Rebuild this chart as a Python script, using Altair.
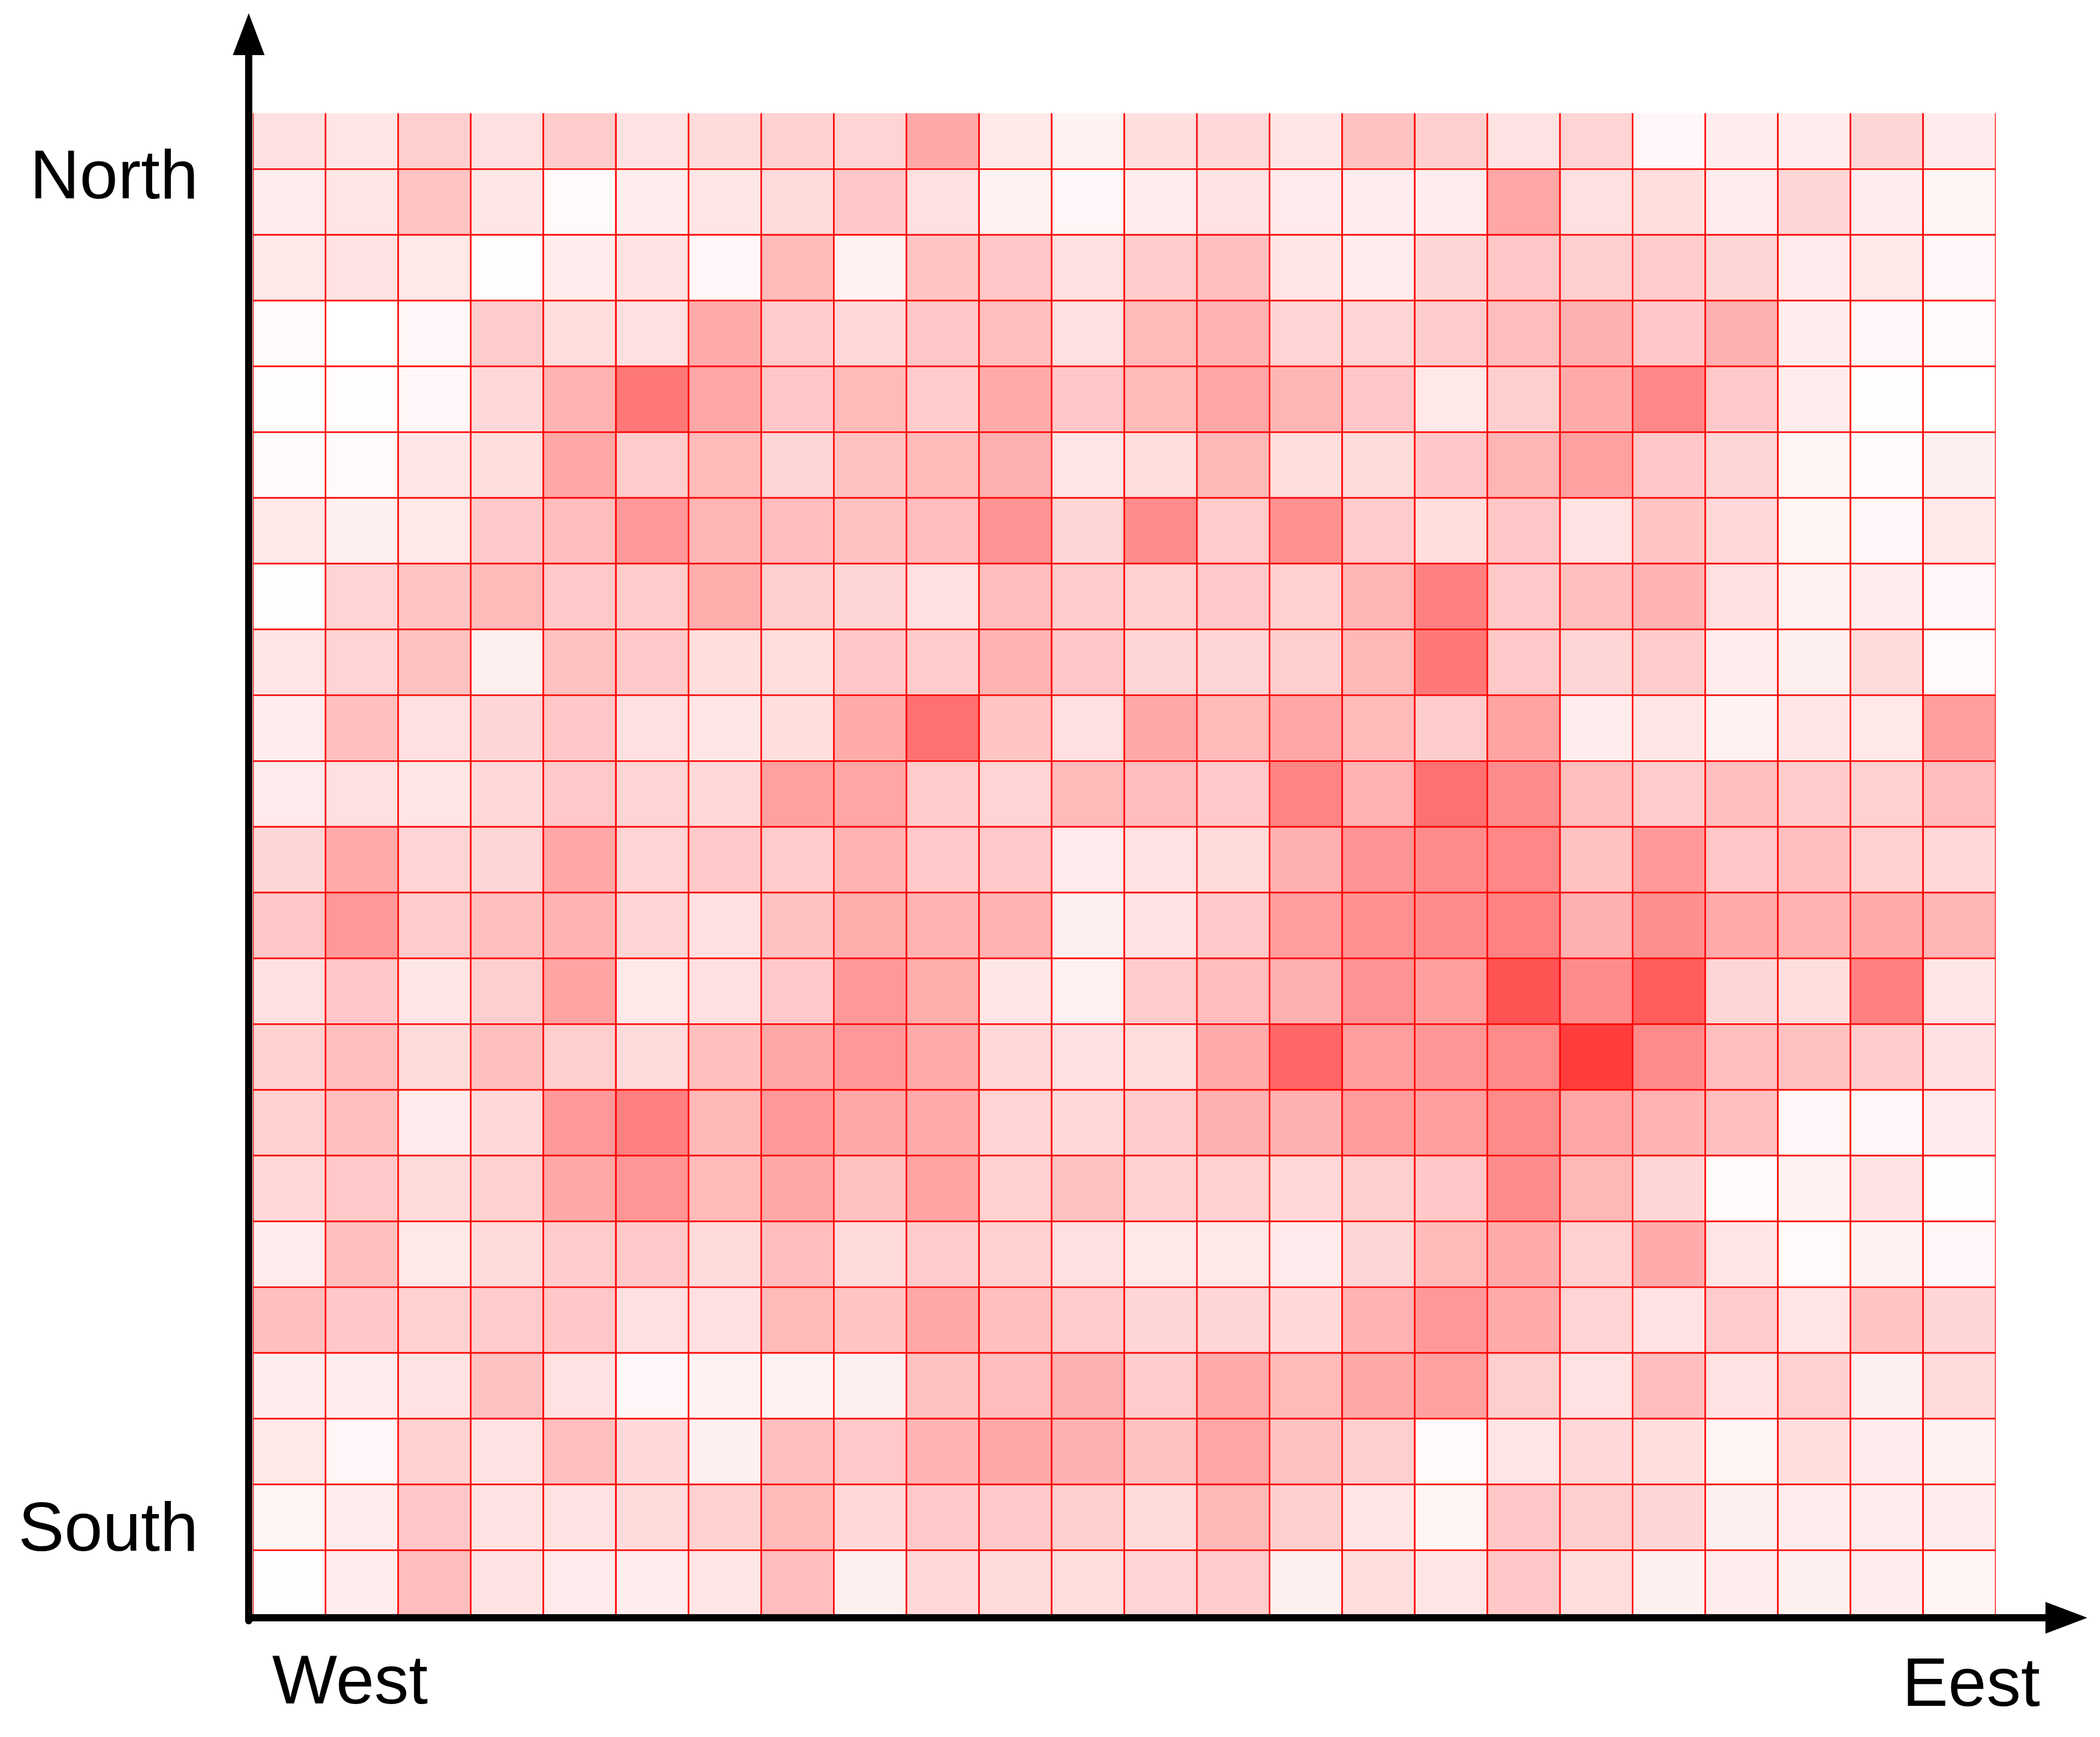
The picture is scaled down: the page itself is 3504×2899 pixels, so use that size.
import altair as alt
import pandas as pd

# intensity of red (0 = white, 100 = pure red), rows listed from North (top) to South (bottom),
# columns from West (left) to East (right)
row_values = [
    [12, 10, 19, 12, 20, 11, 14, 18, 17, 34, 9, 5, 13, 15, 10, 24, 19, 11, 17, 3, 7, 7, 16, 8],
    [7, 10, 23, 10, 2, 7, 10, 14, 22, 12, 5, 3, 7, 11, 8, 7, 7, 35, 12, 13, 7, 16, 7, 4],
    [9, 11, 9, 1, 7, 11, 3, 27, 5, 23, 22, 12, 20, 25, 10, 7, 16, 22, 19, 20, 16, 8, 9, 3],
    [2, 0, 3, 20, 13, 12, 33, 20, 15, 22, 25, 12, 27, 30, 17, 17, 20, 26, 31, 22, 31, 7, 3, 2],
    [1, 1, 3, 15, 30, 53, 35, 22, 27, 20, 33, 22, 27, 35, 29, 22, 9, 19, 33, 47, 21, 7, 1, 0],
    [2, 2, 10, 13, 35, 20, 27, 16, 24, 27, 31, 10, 13, 28, 13, 14, 22, 29, 37, 22, 16, 4, 2, 6],
    [9, 6, 9, 21, 26, 40, 29, 26, 24, 26, 42, 16, 45, 20, 43, 20, 13, 22, 11, 23, 15, 4, 3, 9],
    [1, 17, 23, 27, 21, 20, 32, 19, 16, 12, 26, 20, 18, 21, 18, 29, 50, 21, 25, 30, 12, 5, 7, 3],
    [10, 17, 24, 6, 24, 21, 13, 13, 22, 20, 30, 22, 16, 16, 19, 28, 53, 21, 16, 20, 7, 6, 14, 2],
    [7, 25, 12, 16, 22, 12, 10, 13, 33, 56, 23, 12, 34, 27, 35, 27, 20, 36, 7, 10, 5, 10, 9, 38],
    [8, 12, 10, 15, 21, 17, 15, 37, 35, 20, 17, 27, 26, 21, 48, 30, 56, 45, 25, 20, 25, 20, 18, 26],
    [16, 33, 17, 16, 35, 17, 21, 20, 30, 21, 21, 8, 11, 14, 31, 42, 46, 47, 24, 40, 22, 25, 18, 15],
    [22, 40, 20, 25, 30, 17, 12, 24, 32, 30, 30, 6, 11, 21, 38, 43, 45, 49, 31, 44, 33, 30, 33, 29],
    [12, 22, 10, 19, 36, 9, 12, 21, 40, 32, 10, 5, 20, 26, 31, 42, 38, 68, 45, 64, 16, 13, 50, 10],
    [18, 25, 14, 25, 19, 14, 25, 34, 40, 33, 15, 12, 13, 33, 60, 38, 41, 46, 76, 46, 25, 24, 20, 12],
    [18, 25, 8, 15, 40, 50, 28, 40, 34, 33, 17, 15, 20, 31, 31, 39, 38, 46, 35, 30, 25, 3, 3, 8],
    [15, 21, 14, 18, 34, 41, 27, 34, 24, 36, 18, 24, 18, 18, 15, 19, 22, 45, 28, 16, 2, 5, 11, 1],
    [7, 25, 9, 14, 20, 21, 14, 26, 14, 20, 18, 12, 9, 9, 8, 16, 27, 33, 18, 33, 10, 2, 5, 3],
    [25, 22, 18, 20, 22, 12, 12, 27, 23, 34, 25, 20, 16, 16, 15, 30, 40, 33, 17, 11, 20, 10, 23, 16],
    [7, 7, 11, 24, 11, 3, 5, 5, 6, 24, 26, 31, 20, 33, 27, 34, 37, 19, 11, 26, 11, 18, 6, 14],
    [9, 3, 18, 11, 25, 15, 6, 25, 21, 30, 34, 31, 24, 35, 24, 19, 2, 10, 15, 13, 4, 13, 8, 5],
    [4, 7, 22, 11, 11, 14, 18, 27, 15, 21, 21, 19, 14, 28, 19, 10, 4, 22, 19, 16, 6, 7, 7, 7],
    [1, 7, 26, 11, 8, 7, 10, 26, 6, 15, 14, 13, 17, 20, 6, 13, 10, 22, 13, 6, 7, 6, 7, 4],
]
n_rows = len(row_values)
n_cols = len(row_values[0])
visible_rows = 22.85  # the top row is partly cut off

labels_y = ["North", "South"]
labels_x = ["West", "Eest"]

records = []
for i, row in enumerate(row_values):
    for j, v in enumerate(row):
        records.append({"x0": j, "x1": j + 1, "y0": n_rows - 1 - i, "y1": n_rows - i, "v": v})
df = pd.DataFrame(records)

W, H = 2908, 2508
xs = alt.Scale(domain=[0, n_cols], nice=False, zero=False)
ys = alt.Scale(domain=[0, visible_rows], nice=False, zero=False)

cells = alt.Chart(df).mark_rect(stroke="#ff0000", strokeWidth=2.5, clip=True).encode(
    x=alt.X("x0:Q", scale=xs, axis=None),
    x2="x1:Q",
    y=alt.Y("y0:Q", scale=ys, axis=None),
    y2="y1:Q",
    color=alt.Color("v:Q", scale=alt.Scale(domain=[0, 100], range=["#ffffff", "#ff0000"], interpolate="rgb"), legend=None),
)

one = pd.DataFrame({"a": [0]})

y_axis = alt.Chart(one).mark_rule(color="black", strokeWidth=12, strokeCap="round").encode(
    x=alt.value(-7), y=alt.value(-100), y2=alt.value(2516)
)
x_axis = alt.Chart(one).mark_rule(color="black", strokeWidth=12, strokeCap="butt").encode(
    x=alt.value(-12), x2=alt.value(2998), y=alt.value(2511)
)
y_head = alt.Chart(one).mark_point(
    shape="M0,-1L0.757,1L-0.757,1Z", size=4900, filled=True, color="black", opacity=1, strokeWidth=0
).encode(x=alt.value(-7), y=alt.value(-132))
x_head = alt.Chart(one).mark_point(
    shape="M1,0L-1,-0.757L-1,0.757Z", size=4900, filled=True, color="black", opacity=1, strokeWidth=0
).encode(x=alt.value(3026), y=alt.value(2511))

font = "Liberation Sans"
fs = 115
t_north = alt.Chart(one).mark_text(font=font, fontSize=fs, align="right", baseline="alphabetic", color="black").encode(
    x=alt.value(-91), y=alt.value(142), text=alt.value(labels_y[0]))
t_south = alt.Chart(one).mark_text(font=font, fontSize=fs, align="right", baseline="alphabetic", color="black").encode(
    x=alt.value(-91), y=alt.value(2399), text=alt.value(labels_y[1]))
t_west = alt.Chart(one).mark_text(font=font, fontSize=fs, align="left", baseline="alphabetic", color="black").encode(
    x=alt.value(32), y=alt.value(2654), text=alt.value(labels_x[0]))
t_east = alt.Chart(one).mark_text(font=font, fontSize=fs, align="right", baseline="alphabetic", color="black").encode(
    x=alt.value(2982), y=alt.value(2658), text=alt.value(labels_x[1]))

chart = alt.layer(cells, y_axis, x_axis, y_head, x_head, t_north, t_south, t_west, t_east).properties(
    width=W,
    height=H,
    autosize=alt.AutoSizeParams(type="none"),
    padding={"left": 414, "top": 181, "right": 166, "bottom": 194},
    background="white",
).configure_view(strokeWidth=0)

chart.save("out.html", embed_options={"renderer": "svg", "actions": False})
